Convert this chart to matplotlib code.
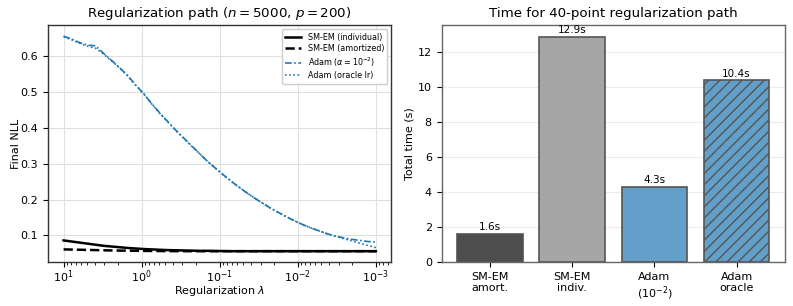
import numpy as np
import matplotlib
matplotlib.use("Agg")
import matplotlib.pyplot as plt

# ---------------- data ----------------
lambdas = np.logspace(1, -3, 40)

nll_smem_indiv = [0.086, 0.083, 0.080, 0.077, 0.074, 0.071, 0.069, 0.067, 0.065, 0.0635,
                  0.062, 0.061, 0.060, 0.059, 0.0585, 0.058, 0.0575, 0.057, 0.057, 0.0566,
                  0.0563, 0.056, 0.056, 0.056, 0.056, 0.056, 0.056, 0.056, 0.056, 0.056,
                  0.056, 0.056, 0.056, 0.056, 0.056, 0.056, 0.056, 0.056, 0.056, 0.056]
nll_smem_amort = [0.061, 0.0605, 0.060, 0.0595, 0.059, 0.0585, 0.058, 0.0577, 0.0574, 0.0571,
                  0.0568, 0.0566, 0.0564, 0.0562, 0.056, 0.056, 0.056, 0.056, 0.056, 0.056,
                  0.056, 0.056, 0.056, 0.056, 0.056, 0.056, 0.056, 0.056, 0.056, 0.056,
                  0.056, 0.056, 0.056, 0.056, 0.056, 0.056, 0.056, 0.056, 0.056, 0.056]
nll_adam_fixed = [0.656, 0.648, 0.638, 0.631, 0.629, 0.608, 0.588, 0.568, 0.546, 0.520,
                  0.495, 0.468, 0.442, 0.418, 0.394, 0.372, 0.350, 0.328, 0.306, 0.287,
                  0.268, 0.250, 0.233, 0.217, 0.202, 0.188, 0.174, 0.162, 0.150, 0.139,
                  0.129, 0.120, 0.112, 0.104, 0.098, 0.093, 0.089, 0.086, 0.083, 0.081]
nll_adam_oracle = [0.654, 0.646, 0.636, 0.628, 0.622, 0.606, 0.587, 0.567, 0.545, 0.519,
                   0.496, 0.467, 0.441, 0.417, 0.393, 0.371, 0.349, 0.328, 0.306, 0.287,
                   0.268, 0.250, 0.233, 0.217, 0.202, 0.188, 0.174, 0.162, 0.150, 0.139,
                   0.129, 0.120, 0.112, 0.104, 0.097, 0.091, 0.085, 0.078, 0.072, 0.066]

methods = ["SM-EM\namort.", "SM-EM\nindiv.", "Adam\n($10^{-2}$)", "Adam\noracle"]
times = [1.6, 12.9, 4.3, 10.4]
time_labels = ["1.6s", "12.9s", "4.3s", "10.4s"]

# ---------------- plot ----------------
fig, (ax1, ax2) = plt.subplots(1, 2, figsize=(7.93, 3.06), dpi=100)
fig.subplots_adjust(left=0.0605, right=0.990, top=0.917, bottom=0.144, wspace=0.146)

blue = "#1f77b4"
ax1.plot(lambdas, nll_smem_indiv, color="black", lw=1.8, ls="-", label="SM-EM (individual)")
ax1.plot(lambdas, nll_smem_amort, color="black", lw=1.8, ls="--", label="SM-EM (amortized)")
ax1.plot(lambdas, nll_adam_fixed, color=blue, lw=1.2, ls=(0, (4, 1.5, 1, 1.5)),
         label=r"Adam ($\alpha=10^{-2}$)")
ax1.plot(lambdas, nll_adam_oracle, color=blue, lw=1.2, ls=(0, (1, 1.5)), label="Adam (oracle lr)")
ax1.set_xscale("log")
ax1.invert_xaxis()
ax1.set_xlabel(r"Regularization $\lambda$", fontsize=8, labelpad=-1)
ax1.set_ylabel("Final NLL", fontsize=8, labelpad=0)
ax1.set_title(r"Regularization path ($n=5000$, $p=200$)", fontsize=9.6)
ax1.grid(True, color="#e0e0e0", lw=0.8)
ax1.set_axisbelow(True)
ax1.tick_params(labelsize=8)
ax1.tick_params(axis="x", which="major", pad=1.5)
leg = ax1.legend(fontsize=5.8, loc="upper right", framealpha=1.0, borderpad=0.4,
                 handlelength=2.0, labelspacing=0.3)
for s in ax1.spines.values():
    s.set_color("#333333")
    s.set_linewidth(1.0)

colors = ["#4d4d4d", "#a6a6a6", "#62a0ca", "#62a0ca"]
hatches = [None, None, None, "///"]
x = np.arange(len(methods))
bars = ax2.bar(x, times, width=0.8, color=colors, edgecolor="#555555", linewidth=1.2)
for b, h in zip(bars, hatches):
    if h:
        b.set_hatch(h)
for b, t in zip(bars, time_labels):
    ax2.text(b.get_x() + b.get_width() / 2, b.get_height() + 0.1, t,
             ha="center", va="bottom", fontsize=7.5)
ax2.set_xticks(x)
ax2.set_xticklabels(methods, fontsize=8)
ax2.set_ylabel("Total time (s)", fontsize=8, labelpad=2)
ax2.set_title("Time for 40-point regularization path", fontsize=9.6)
ax2.yaxis.grid(True, color="#ececec", lw=0.8)
ax2.set_axisbelow(True)
ax2.tick_params(labelsize=8)
for s in ax2.spines.values():
    s.set_color("#666666")
    s.set_linewidth(1.0)

fig.savefig("out.png", dpi=100)
